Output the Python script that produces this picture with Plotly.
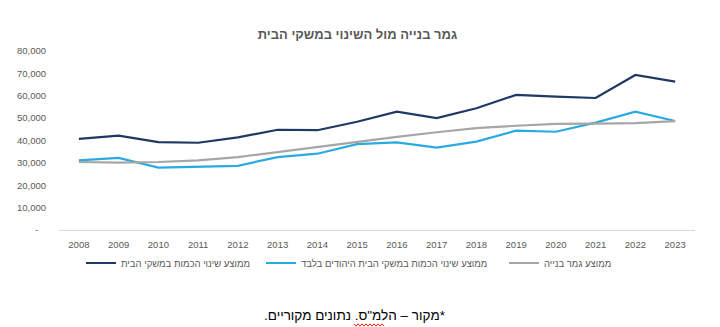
import plotly.graph_objects as go

years = [str(y) for y in range(2008, 2024)]
household_change = [40700, 42200, 39300, 39000, 41400, 44800, 44600, 48400,
                    52900, 50000, 54400, 60400, 59600, 59000, 69300, 66300]
jewish_household_change = [31100, 32200, 27900, 28200, 28700, 32600, 34100, 38400,
                           39200, 36800, 39500, 44400, 43900, 48000, 52900, 48700]
construction_completed = [30400, 30100, 30400, 31100, 32600, 34900, 37100, 39400,
                          41600, 43700, 45500, 46600, 47400, 47500, 47800, 48700]

series_names = ["ממוצע שינוי הכמות במשקי הבית",
                "ממוצע שינוי הכמות במשקי הבית היהודים בלבד",
                "ממוצע גמר בנייה"]
y_tick_vals = [0, 10000, 20000, 30000, 40000, 50000, 60000, 70000, 80000]
y_tick_text = ["-\u00a0\u00a0\u00a0", "10,000", "20,000", "30,000", "40,000",
               "50,000", "60,000", "70,000", "80,000"]
title_text = "גמר בנייה מול השינוי במשקי הבית"
note_text = "\u200F*מקור – הלמ\"ס. נתונים מקוריים.\u200F"

FONT = "Liberation Sans, Arial, DejaVu Sans, sans-serif"
GREY_TXT = "#595959"
W, H = 720, 327
ML, MR, MT, MB = 59, 25, 51, 97
PW, PH = W - ML - MR, H - MT - MB


def px_x(px):
    return (px - ML) / PW


def px_y(py):
    return (H - MB - py) / PH


fig = go.Figure()
colors = ["#1F3864", "#2AAAE1", "#A6A6A6"]
data = [household_change, jewish_household_change, construction_completed]
legends = ["legend", "legend2", "legend3"]
for name, vals, col, lg in zip(series_names, data, colors, legends):
    fig.add_trace(go.Scatter(x=years, y=vals, mode="lines", name=name,
                             line=dict(color=col, width=2.2), legend=lg,
                             hoverinfo="skip"))

leg_common = dict(orientation="h", yanchor="middle", xanchor="left",
                  font=dict(family=FONT, size=9.5, color=GREY_TXT),
                  bgcolor="rgba(0,0,0,0)", itemwidth=30)
fig.update_layout(
    width=W, height=H,
    margin=dict(l=ML, r=MR, t=MT, b=MB, pad=0),
    paper_bgcolor="white", plot_bgcolor="white",
    font=dict(family=FONT, color=GREY_TXT),
    title=dict(text="<b>" + title_text + "</b>", x=357.5 / W, xanchor="center",
               y=1 - 34 / H, yanchor="middle",
               font=dict(family=FONT, size=13, color=GREY_TXT)),
    legend=dict(x=px_x(81), y=px_y(263), **leg_common),
    legend2=dict(x=px_x(261), y=px_y(263), **leg_common),
    legend3=dict(x=px_x(504), y=px_y(263), **leg_common),
    xaxis=dict(type="category", range=[-0.5, len(years) - 0.5],
               showgrid=False, showline=True, linecolor="#D9D9D9", linewidth=1,
               ticks="outside", ticklen=6, tickcolor="rgba(0,0,0,0)",
               tickfont=dict(family=FONT, size=9.5, color=GREY_TXT),
               zeroline=False, fixedrange=True),
    yaxis=dict(range=[0, 80000], showgrid=False, showline=False, zeroline=False,
               tickvals=y_tick_vals, ticktext=y_tick_text,
               ticks="outside", ticklen=10, tickcolor="rgba(0,0,0,0)",
               tickfont=dict(family=FONT, size=9.5, color=GREY_TXT),
               fixedrange=True),
    showlegend=True,
)

fig.add_annotation(text=note_text, xref="paper", yref="paper",
                   x=px_x(355), y=px_y(315), xanchor="center", yanchor="middle",
                   showarrow=False,
                   font=dict(family=FONT, size=13.5, color="#000000"))

# red spell-check squiggle under the abbreviation
x0, x1, yb = 354, 384, 325
pts = []
px, up = x0, True
while px <= x1:
    pts.append((px, yb - 1.2 if up else yb + 1.2))
    px += 2
    up = not up
path = "M " + " L ".join(f"{px_x(a):.5f},{px_y(b):.5f}" for a, b in pts)
fig.add_shape(type="path", path=path, xref="paper", yref="paper",
              line=dict(color="#E0251B", width=1))

fig.write_html("out.html")
